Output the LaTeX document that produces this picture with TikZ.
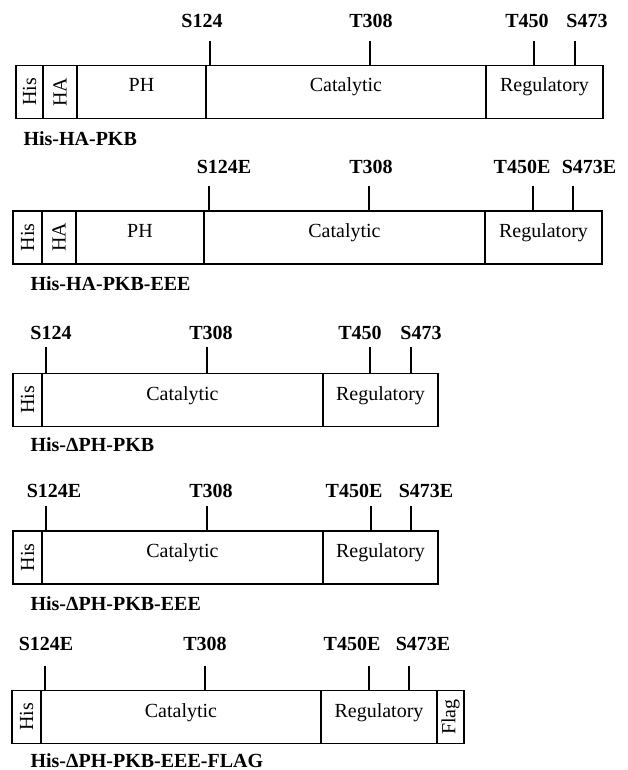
\documentclass[tikz,border=0pt]{standalone}
\usepackage{fontspec}
\setmainfont{Liberation Serif}
\usetikzlibrary{positioning}

\begin{document}
\begin{tikzpicture}[x=1pt, y=-1pt,
  every node/.style={font=\fontsize{20}{24}\selectfont},
  region/.style={draw, line width=1.3pt, inner sep=0pt, minimum height=53pt,
                 text height=26.5pt, text depth=26.5pt},
  tagbox/.style={draw, line width=1.3pt, inner sep=0pt, rotate=90,
              minimum width=53pt},
  sitelabel/.style={anchor=base, font=\fontsize{20}{24}\selectfont\bfseries},
  construct/.style={anchor=base west, font=\fontsize{20}{24}\selectfont\bfseries},
  tickline/.style={line width=1.3pt},
]
  \useasboundingbox (0,0) rectangle (627,770);

  % His-HA-PKB
  \node[tagbox, minimum height=27pt] (ahis) at (29.5,92) {His};
  \node[tagbox, minimum height=34pt] (aha) at (60,92) {HA};
  \node[region, minimum width=129pt] (aph) at (141.5,92) {PH};
  \node[region, minimum width=280pt] (acat) at (346,92) {Catalytic};
  \node[region, minimum width=117pt] (areg) at (544.5,92) {Regulatory};
  \node[sitelabel] (as124) at (202,28) {S124};
  \node[sitelabel] (at308) at (371,28) {T308};
  \node[sitelabel] (at450) at (527,28) {T450};
  \node[sitelabel] (as473) at (587,28) {S473};
  \coordinate (ap124) at (210,41);
  \coordinate (ap308) at (370,41);
  \coordinate (ap450) at (534,41);
  \coordinate (ap473) at (575,41);
  \draw[tickline] (ap124) -- (ap124 |- acat.north);
  \draw[tickline] (ap308) -- (ap308 |- acat.north);
  \draw[tickline] (ap450) -- (ap450 |- areg.north);
  \draw[tickline] (ap473) -- (ap473 |- areg.north);
  \node[construct] (aname) at (20,146) {His-HA-PKB};

  % His-HA-PKB-EEE
  \node[tagbox, minimum height=29pt] (bhis) at (27.5,237.5) {His};
  \node[tagbox, minimum height=34pt] (bha) at (59,237.5) {HA};
  \node[region, minimum width=128pt] (bph) at (140,237.5) {PH};
  \node[region, minimum width=281pt] (bcat) at (344.5,237.5) {Catalytic};
  \node[region, minimum width=117pt] (breg) at (543.5,237.5) {Regulatory};
  \node[sitelabel] (bs124) at (224,173) {S124E};
  \node[sitelabel] (bt308) at (371,173) {T308};
  \node[sitelabel] (bt450) at (522,173) {T450E};
  \node[sitelabel] (bs473) at (589,173) {S473E};
  \coordinate (bp124) at (209,186);
  \coordinate (bp308) at (369,186);
  \coordinate (bp450) at (533,186);
  \coordinate (bp473) at (573,186);
  \draw[tickline] (bp124) -- (bp124 |- bcat.north);
  \draw[tickline] (bp308) -- (bp308 |- bcat.north);
  \draw[tickline] (bp450) -- (bp450 |- breg.north);
  \draw[tickline] (bp473) -- (bp473 |- breg.north);
  \node[construct] (bname) at (27,290) {His-HA-PKB-EEE};

  % His-dPH-PKB
  \node[tagbox, minimum height=29pt] (chis) at (27.5,400) {His};
  \node[region, minimum width=281pt] (ccat) at (182.5,400) {Catalytic};
  \node[region, minimum width=115pt] (creg) at (380.5,400) {Regulatory};
  \node[sitelabel] (cs124) at (51,339) {S124};
  \node[sitelabel] (ct308) at (211,339) {T308};
  \node[sitelabel] (ct450) at (360,339) {T450};
  \node[sitelabel] (cs473) at (421,339) {S473};
  \coordinate (cp124) at (46,347);
  \coordinate (cp308) at (207,347);
  \coordinate (cp450) at (370,347);
  \coordinate (cp473) at (411,347);
  \draw[tickline] (cp124) -- (cp124 |- ccat.north);
  \draw[tickline] (cp308) -- (cp308 |- ccat.north);
  \draw[tickline] (cp450) -- (cp450 |- creg.north);
  \draw[tickline] (cp473) -- (cp473 |- creg.north);
  \node[construct] (cname) at (27,451) {His-ΔPH-PKB};

  % His-dPH-PKB-EEE
  \node[tagbox, minimum height=29pt] (dhis) at (27.5,557.5) {His};
  \node[region, minimum width=281pt] (dcat) at (182.5,557.5) {Catalytic};
  \node[region, minimum width=115pt] (dreg) at (380.5,557.5) {Regulatory};
  \node[sitelabel] (ds124) at (54,497) {S124E};
  \node[sitelabel] (dt308) at (211,497) {T308};
  \node[sitelabel] (dt450) at (354,497) {T450E};
  \node[sitelabel] (ds473) at (426,497) {S473E};
  \coordinate (dp124) at (46,506);
  \coordinate (dp308) at (207,506);
  \coordinate (dp450) at (371,506);
  \coordinate (dp473) at (411,506);
  \draw[tickline] (dp124) -- (dp124 |- dcat.north);
  \draw[tickline] (dp308) -- (dp308 |- dcat.north);
  \draw[tickline] (dp450) -- (dp450 |- dreg.north);
  \draw[tickline] (dp473) -- (dp473 |- dreg.north);
  \node[construct] (dname) at (27,610) {His-ΔPH-PKB-EEE};

  % His-dPH-PKB-EEE-FLAG
  \node[tagbox, minimum height=29pt] (ehis) at (26.5,717) {His};
  \node[region, minimum width=280pt] (ecat) at (181,717) {Catalytic};
  \node[region, minimum width=116pt] (ereg) at (379,717) {Regulatory};
  \node[tagbox, minimum height=27pt] (eflag) at (450.5,717) {Flag};
  \node[sitelabel] (es124) at (46,650) {S124E};
  \node[sitelabel] (et308) at (205,650) {T308};
  \node[sitelabel] (et450) at (352,650) {T450E};
  \node[sitelabel] (es473) at (423,650) {S473E};
  \coordinate (ep124) at (45,666);
  \coordinate (ep308) at (205,666);
  \coordinate (ep450) at (369,666);
  \coordinate (ep473) at (409,666);
  \draw[tickline] (ep124) -- (ep124 |- ecat.north);
  \draw[tickline] (ep308) -- (ep308 |- ecat.north);
  \draw[tickline] (ep450) -- (ep450 |- ereg.north);
  \draw[tickline] (ep473) -- (ep473 |- ereg.north);
  \node[construct] (ename) at (27,767) {His-ΔPH-PKB-EEE-FLAG};
\end{tikzpicture}
\end{document}
